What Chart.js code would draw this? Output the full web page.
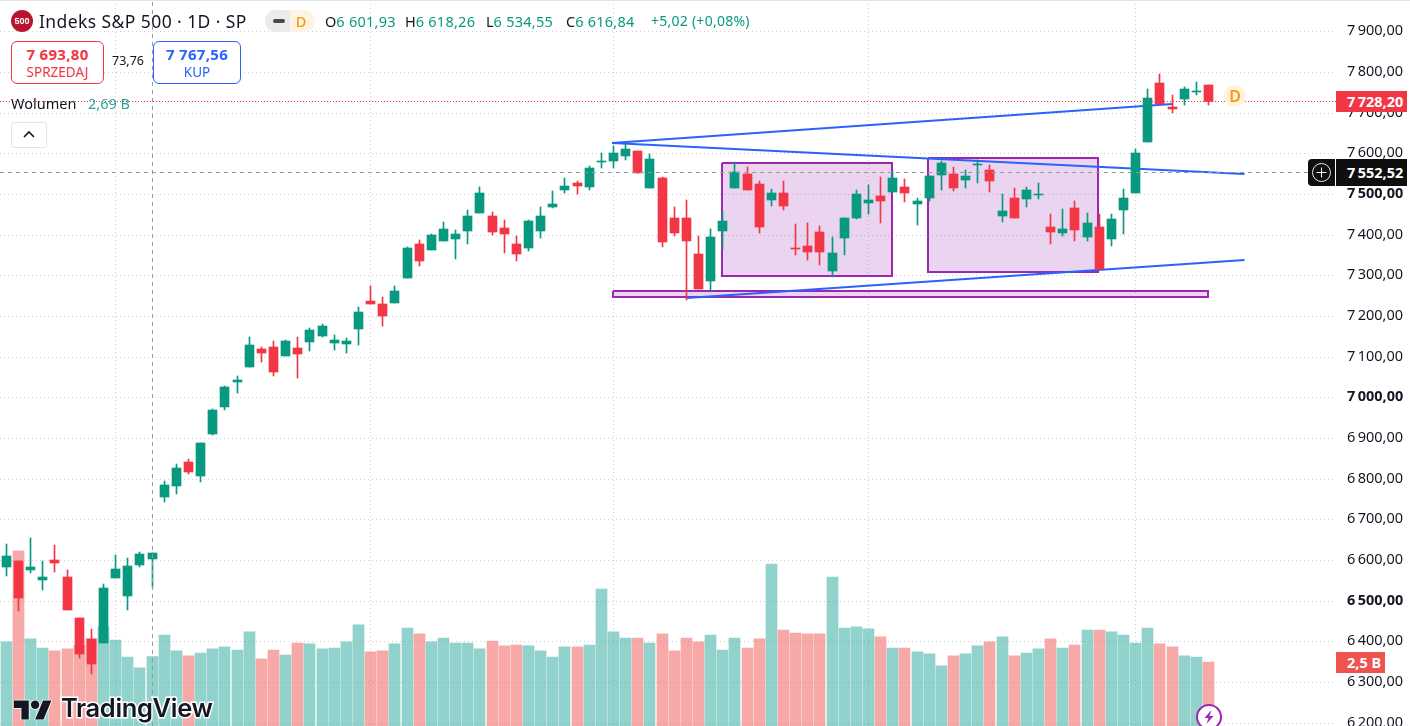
<!DOCTYPE html>
<html lang="pl">
<head>
<meta charset="utf-8">
<title>Indeks S&amp;P 500</title>
<script src="https://cdn.jsdelivr.net/npm/chart.js@4"></script>
<style>
  html, body { margin: 0; padding: 0; background: #fff; overflow: hidden; }
  body { width: 1410px; height: 726px; position: relative; font-family: "Noto Sans", sans-serif; color: #131722; }
  #chart { position: absolute; left: 0; top: 0; }
  .t { position: absolute; white-space: nowrap; line-height: 1; }
  .g { color: #089981; letter-spacing: .25px; }
  .box { position: absolute; box-sizing: border-box; border: 1px solid; border-radius: 6px; background: #fff; text-align: center; }
  .box b { display: block; font-size: 15px; line-height: 15px; margin-top: 5px; letter-spacing: .3px; }
  .box span { display: block; font-size: 13.5px; line-height: 14px; margin-top: 3px; }
  .tag { position: absolute; color: #fff; font-weight: 700; font-size: 14.5px; box-sizing: border-box; padding-left: 11px; white-space: nowrap; }
</style>
</head>
<body>
<canvas id="chart" width="1410" height="726"></canvas>

<div style="position:absolute;left:0;top:0;width:1410px;height:1px;background:#e0e3eb"></div>

<!-- header -->
<div style="position:absolute;left:11px;top:10px;width:22px;height:22px;border-radius:50%;background:#b8142f;color:#fff;font:700 9px/22px 'Liberation Sans';text-align:center">500</div>
<div class="t" style="left:39px;top:13px;font-size:17.5px;letter-spacing:.42px">Indeks S&amp;P 500 · 1D · SP</div>
<div style="position:absolute;left:265px;top:10px;width:25px;height:22px;background:#ebebeb;border-radius:11px 0 0 11px"></div>
<div style="position:absolute;left:273px;top:19px;width:12px;height:4px;background:#4a4a4a;border-radius:2px"></div>
<div class="t" style="left:290px;top:10px;width:25px;height:22px;line-height:22px;background:#fff3e6;border-radius:0 11px 11px 0;color:#ff9800;font-size:14.5px;font-weight:500;text-align:center;box-sizing:border-box;padding-right:3px">D</div>
<div class="t" style="left:325px;top:14px;font-size:14.5px">O<span class="g">6 601,93</span></div>
<div class="t" style="left:405px;top:14px;font-size:14.5px">H<span class="g">6 618,26</span></div>
<div class="t" style="left:486px;top:14px;font-size:14.5px">L<span class="g">6 534,55</span></div>
<div class="t" style="left:566px;top:14px;font-size:14.5px">C<span class="g">6 616,84</span></div>
<div class="t g" style="left:651px;top:14px;font-size:14px">+5,02 (+0,08%)</div>

<div class="box" style="left:11px;top:41px;width:93px;height:43px;border-color:#f23645;color:#f23645"><b>7 693,80</b><span>SPRZEDAJ</span></div>
<div class="t" style="left:112px;top:55px;font-size:12.5px">73,76</div>
<div class="box" style="left:153px;top:41px;width:88px;height:43px;border-color:#2962ff;color:#2962ff"><b>7 767,56</b><span>KUP</span></div>

<div class="t" style="left:11px;top:96px;font-size:14.5px">Wolumen</div>
<div class="t" style="left:88px;top:96px;font-size:14.5px;color:#26a69a">2,69 B</div>
<div style="position:absolute;left:11px;top:122px;width:36px;height:26px;box-sizing:border-box;border:1px solid #e0e3eb;border-radius:3px;background:#fff"></div>
<svg style="position:absolute;left:22px;top:130px" width="14" height="9"><path d="M2 7 L7 2 L12 7" fill="none" stroke="#131722" stroke-width="1.6"/></svg>

<!-- price axis tags -->
<div class="tag" style="left:1336px;top:91px;width:71px;height:21px;line-height:21px;background:#f23645">7&#8201;728,20</div>
<div class="tag" style="left:1308px;top:159px;width:27px;height:27px;background:#0f0f0f;border-radius:4px 0 0 4px;padding:0">
  <svg width="27" height="27" style="display:block"><circle cx="13.5" cy="13.5" r="9" fill="none" stroke="#e8e8e8" stroke-width="1"/><path d="M13.5 8.5v10M8.5 13.5h10" stroke="#fff" stroke-width="1"/></svg>
</div>
<div class="tag" style="left:1336px;top:159px;width:71px;height:27px;line-height:27px;background:#0f0f0f">7&#8201;552,52</div>
<div class="tag" style="left:1336px;top:652px;width:49px;height:21px;line-height:21px;background:#ef5350">2,5 B</div>

<!-- badges -->
<div style="position:absolute;left:1224px;top:85px;width:22px;height:22px;border-radius:50%;background:#fff3e0;color:#ff9800;font-size:16px;font-weight:600;line-height:22px;text-align:center">D</div>
<svg style="position:absolute;left:1195px;top:703px" width="28" height="23">
  <circle cx="14" cy="14" r="12" fill="#fff" stroke="#9c27b0" stroke-width="2"/>
  <path d="M16.5 7 L9.5 15 H13.5 L11.5 21 L18.5 13 H14.5 Z" fill="#9c27b0"/>
</svg>

<!-- logo -->
<svg style="position:absolute;left:14px;top:696px" width="38" height="24" viewBox="0 0 36 22">
  <path d="M14 22H7V11H0V4h14v18zM28 22h-8l7.5-18h8L28 22z" fill="#131722" stroke="#fff" stroke-width="1.5" paint-order="stroke"/>
  <circle cx="20" cy="8" r="4" fill="#131722" stroke="#fff" stroke-width="1.5" paint-order="stroke"/>
</svg>
<div class="t" style="left:61px;top:695px;font-family:Inter;font-weight:600;font-size:25.5px;letter-spacing:-.35px;color:#131722;-webkit-text-stroke:3px #fff;paint-order:stroke fill">TradingView</div>

<script>
// daily candles, index 0 = leftmost on the chart
const opens = [6582.9,6597.7,6575.5,6550.9,6600.1,6558.3,6457.6,6405.9,6396.1,6555.8,
  6511.6,6587.8,6601.93,6755,6782.1,6841.1,6806.7,6910,6976.3,7037.8,
  7074.7,7119,7123.9,7101.7,7121.5,7136.2,7150.9,7133.7,7131.3,7168.1,
  7237,7229.6,7232.1,7293.6,7377.2,7362.4,7384.5,7389.5,7409.1,7453.4,
  7446,7416.5,7377.2,7367.3,7409.1,7468.1,7510,7527.2,7517.3,7578.8,
  7581.3,7593.6,7605.9,7514.9,7539.5,7441.1,7441.1,7352.6,7286.2,7409.1,
  7514.9,7549.3,7524.7,7485.4,7502.6,7367.3,7372.2,7406.7,7310.8,7391.9,
  7441.1,7478,7495.2,7505,7517.3,7475.5,7490.3,7546.8,7549.3,7534.5,
  7571.4,7559.1,7446,7490.3,7487.8,7497.7,7419,7404.2,7465.7,7394.4,
  7419,7389.5,7460.8,7502.7,7628.1,7773.1,7714.1,7733.8,7751,7768.2]
const highs = [6639.4,6598,6654.2,6597.7,6637,6575.5,6458,6430.5,6541.2,6612.4,
  6605,6619.8,6618.26,6794.4,6836.2,6848.5,6888,6971.4,7028,7052.6,
  7148.5,7123.9,7138.6,7141.1,7148.5,7170.6,7180.5,7153.4,7146,7222.2,
  7273.9,7246.8,7273.9,7369.8,7387,7401.8,7431.3,7411.6,7460.8,7517.3,
  7455.9,7436.2,7396.8,7436.2,7468.1,7507.5,7539.5,7532.1,7569,7600.9,
  7618.2,7623.1,7606,7598.5,7541.9,7468.1,7485.4,7396.8,7414.1,7458.3,
  7578.8,7566.5,7532.1,7512.4,7532.1,7426.3,7428.8,7421.5,7394.4,7441.1,
  7510,7522.2,7541.9,7556,7537,7490.3,7544.4,7581.3,7566.5,7559.1,
  7583.7,7571.4,7500.1,7514.9,7517.3,7527.2,7450.9,7463.2,7482.9,7453.4,
  7450.9,7451,7512.5,7610.8,7758.4,7795.3,7743.6,7763.3,7775.6,7768.2]
const lows = [6560.8,6474.7,6568.1,6526.3,6570.6,6477.2,6359.2,6319.9,6396.1,6555.8,
  6477.2,6582.9,6534.55,6742.7,6762.4,6811.6,6791.9,6907.5,6969,7010.8,
  7074.7,7087,7052.6,7101.7,7047.6,7114,7148.5,7116.5,7109.1,7128.8,
  7229.6,7175.5,7232.1,7293.6,7323.1,7362.4,7384.5,7340.3,7377.2,7453.4,
  7399.3,7355,7335.4,7359.9,7391.9,7465.7,7502.6,7500.1,7510,7564.1,
  7564.1,7583.7,7551.8,7514.9,7369.8,7396.8,7239.5,7266.5,7259.1,7364.9,
  7514.9,7510,7404.2,7470.6,7460.8,7350.1,7337.8,7325.5,7296,7350.1,
  7438.6,7450.9,7428.8,7505,7480.5,7423.9,7482.9,7510,7507.5,7514.9,
  7527.2,7505,7431.3,7441.1,7468.1,7487.8,7377.2,7396.8,7384.5,7384.5,
  7313.2,7372.3,7401.8,7502.7,7628.1,7721.5,7699.4,7719,7743.6,7719]
const closes = [6609.9,6506.7,6582.9,6558.3,6592.7,6477.2,6369,6344.5,6531.3,6578,
  6585.4,6614.9,6616.84,6784.5,6826.3,6816.5,6887.8,6969,7025.5,7042.7,
  7128.8,7109.1,7062.4,7138.6,7106.7,7165.7,7175.5,7141.1,7138.6,7209.9,
  7229.6,7200.1,7261.6,7367.3,7335.4,7399.3,7414.1,7401.8,7446,7502.6,
  7406.7,7401.8,7352.6,7433.7,7446,7475.5,7519.8,7519.8,7564.1,7581.3,
  7600.9,7610.8,7551.8,7586.2,7382.1,7404.2,7384.5,7266.5,7394.4,7433.7,
  7554.2,7510,7419,7502.6,7470.6,7364.9,7357.5,7357.5,7355,7441.1,
  7500.1,7485.4,7482.9,7539.5,7502.6,7482.9,7544.4,7576.4,7514.9,7544.4,
  7573.9,7532.1,7458.3,7441.1,7510,7500.1,7406.7,7414.1,7411.6,7428.8,
  7315.7,7438.7,7490.3,7601,7736.3,7721.5,7709.2,7758.4,7753.5,7728.2]
// volume in billions
const volumes = [3.22,6.49,3.33,3.0,2.9,2.97,3.11,3.33,3.76,3.29,
  2.68,2.29,2.69,3.47,2.9,2.72,2.82,2.97,3.04,2.93,
  3.58,2.61,2.93,2.75,3.18,3.15,2.97,3.0,3.22,3.83,
  2.86,2.9,3.15,3.72,3.51,3.22,3.36,3.18,3.18,2.97,
  3.25,3.08,3.11,3.08,2.9,2.68,3.04,3.04,3.11,5.12,
  3.58,3.36,3.36,3.18,3.51,2.9,3.36,3.22,3.47,2.93,
  3.36,3.0,3.33,6.02,3.65,3.54,3.51,3.51,5.55,3.72,
  3.76,3.69,3.4,3.0,3.0,2.86,2.79,2.36,2.72,2.79,
  3.08,3.22,3.4,2.72,2.82,2.97,3.33,3.0,3.11,3.65,
  3.65,3.58,3.47,3.18,3.72,3.15,3.04,2.72,2.68,2.5]

const priceTicks = [6200,6300,6400,6500,6600,6700,6800,6900,7000,7100,7200,7300,7400,7500,7600,7700,7800,7900]
const boldTicks = [6500,7000,7500]
const timeGrid = [9,30,50,71,93]

// drawings as [index, price] pairs
const trendUpper = [[49.86,7624.8],[96,7721.5]]
const trendFalling = [[49.86,7624.8],[102,7550.1]]
const trendLower = [[56.03,7243.7],[102,7337.9]]
// boxes as [index from, index to, price top, price bottom]
const boxes = [[58.96,72.94,7576.4,7299.3],[75.9,89.9,7588,7309],[49.93,98.96,7261.6,7246.9]]

const crossIndex = 12
const crossPrice = 7552.52
const lastPrice = 7728.2

const xMin = -0.519, xMax = 109.5
const yMin = 6192, yMax = 7977

const up = '#089981', down = '#f23645'
const isUp = closes.map((c, i) => c >= opens[i])
const candleColors = isUp.map(u => u ? up : down)
const volumeColors = isUp.map(u => u ? 'rgba(38,166,154,.5)' : 'rgba(239,83,80,.5)')
const points = (pairs) => pairs.map(p => ({ x: p[0], y: p[1] }))

const datasets = []

datasets.push({
  type: 'bar', label: 'Wolumen', yAxisID: 'v', order: 100, grouped: false, barThickness: 11,
  data: volumes.map((v, i) => ({ x: i, y: v })), backgroundColor: volumeColors
})

function addLine(pairs, color, width, order, dash) {
  datasets.push({
    type: 'line', yAxisID: 'y', order: order, data: points(pairs),
    borderColor: color, borderWidth: width, borderDash: dash || [],
    pointRadius: 0, tension: 0, fill: false
  })
}

boxes.forEach(b => {
  datasets.push({
    type: 'line', yAxisID: 'y', order: 60, data: points([[b[0], b[2]], [b[1], b[2]]]),
    borderWidth: 0, pointRadius: 0, fill: { value: b[3] }, backgroundColor: 'rgba(156,39,176,.2)'
  })
  addLine([[b[0], b[2]], [b[1], b[2]], [b[1], b[3]], [b[0], b[3]], [b[0], b[2]]], '#9c27b0', 2, 50)
})
addLine(trendUpper, '#2962ff', 2, 40)
addLine(trendFalling, '#2962ff', 2, 40)
addLine(trendLower, '#2962ff', 2, 40)

datasets.push({
  type: 'bar', label: 'knoty', yAxisID: 'y', order: 20, grouped: false, barThickness: 1,
  data: highs.map((h, i) => ({ x: i, y: [lows[i], h] })), backgroundColor: candleColors
})
datasets.push({
  type: 'bar', label: 'korpusy', yAxisID: 'y', order: 10, grouped: false, barThickness: 9, minBarLength: 1,
  data: opens.map((o, i) => ({ x: i, y: [o, closes[i]] })), backgroundColor: candleColors
})

addLine([[xMin, lastPrice], [xMax, lastPrice]], '#f23645', 1, 5, [1, 2])
addLine([[xMin, crossPrice], [xMax, crossPrice]], '#9598a1', 1, 2, [4, 4])
addLine([[crossIndex, yMin], [crossIndex, yMax]], '#9598a1', 1, 2, [4, 4])

// snap to whole pixels so the candles stay crisp like the original
const snapPixels = {
  id: 'snapPixels',
  afterLayout(chart) {
    const x = chart.scales.x, y = chart.scales.y
    if (x._snapped) return
    x._snapped = true
    const xPix = x.getPixelForValue.bind(x)
    const yPix = y.getPixelForValue.bind(y)
    x.getPixelForValue = v => Number.isInteger(v) ? Math.floor(xPix(v)) + 0.5 : Math.round(xPix(v))
    // the two 1px price lines need a half pixel or they smear over two rows
    y.getPixelForValue = v => (v === crossPrice || v === lastPrice) ? Math.floor(yPix(v)) + 0.5 : Math.round(yPix(v))
  }
}

const priceLabel = (v) => {
  const s = v.toFixed(2).replace('.', ',')
  return s.slice(0, 1) + '\u2009' + s.slice(1)
}

new Chart(document.getElementById('chart'), {
  type: 'bar',
  data: { datasets: datasets },
  plugins: [snapPixels],
  options: {
    responsive: false,
    animation: false,
    devicePixelRatio: 1,
    layout: { padding: 0 },
    plugins: { legend: { display: false }, tooltip: { enabled: false } },
    scales: {
      x: {
        type: 'linear', min: xMin, max: xMax, offset: false,
        afterBuildTicks: (s) => { s.ticks = timeGrid.map(v => ({ value: v })) },
        afterFit: (s) => { s.height = 0; s.paddingLeft = 0; s.paddingRight = 0 },
        ticks: { display: false },
        grid: { color: '#cfcfcf', drawTicks: false, offset: false },
        border: { display: false, dash: [1, 3] }
      },
      y: {
        type: 'linear', position: 'right', min: yMin, max: yMax,
        afterBuildTicks: (s) => { s.ticks = priceTicks.map(v => ({ value: v })) },
        afterFit: (s) => { s.width = 74; s.paddingTop = 0; s.paddingBottom = 0 },
        ticks: {
          autoSkip: false, padding: 11, crossAlign: 'near', color: '#131722',
          font: (c) => ({ family: 'Noto Sans', size: 14.5, weight: boldTicks.includes(c.tick && c.tick.value) ? '700' : '400' }),
          callback: (v) => priceLabel(v)
        },
        grid: { color: '#cfcfcf', drawTicks: false },
        border: { display: false, dash: [1, 3] }
      },
      v: {
        type: 'linear', display: false, min: 0.2, max: 26.28
      }
    }
  }
})
</script>
</body>
</html>
